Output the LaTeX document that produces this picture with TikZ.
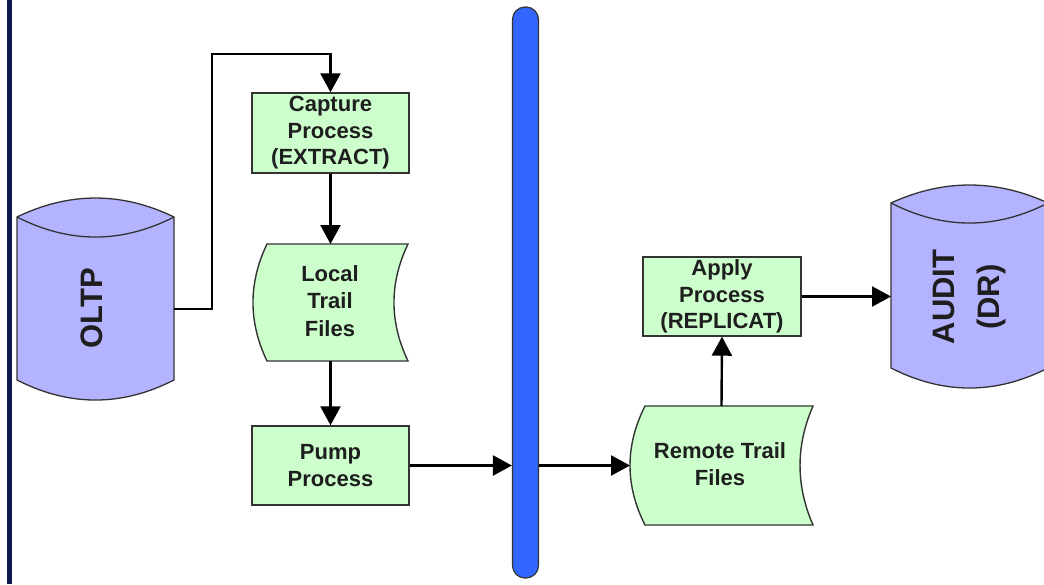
\documentclass[tikz,border=0pt]{standalone}
\usepackage{fontspec}
\setmainfont{Liberation Sans}
\usetikzlibrary{arrows.meta,calc}
\definecolor{mint}{HTML}{CCFFCC}
\definecolor{lilac}{HTML}{B3B3FF}
\definecolor{busblue}{HTML}{3366FF}
\definecolor{railnavy}{HTML}{0E1A4F}
\definecolor{edgegray}{HTML}{333333}
\definecolor{inkgray}{HTML}{1E1E1E}
\tikzset{
  procbox/.style={draw=edgegray, line width=1.4pt, fill=mint, minimum width=157pt,
    minimum height=80pt, inner sep=0pt, align=center, text=inkgray,
    font=\fontsize{22}{26.5}\selectfont\bfseries},
  ghost/.style={inner sep=0pt, outer sep=0pt, draw=none},
  shapeline/.style={draw=edgegray, line width=1.4pt},
  dbline/.style={draw=edgegray, line width=1.3pt},
  lbl/.style={inner sep=0pt, align=center, text=inkgray,
    font=\fontsize{22}{27.5}\selectfont\bfseries},
  dblbl/.style={inner sep=0pt, align=center, text=inkgray, rotate=90,
    font=\fontsize{31}{45}\selectfont\bfseries},
  flow/.style={draw=black, line width=2.4pt,
    -{Triangle[length=19pt,width=20pt]}}
}
\begin{document}
\begin{tikzpicture}[x=1pt,y=-1pt]
\useasboundingbox (0,0) rectangle (1044,584);
\clip (0,0) rectangle (1044,584);
\fill[white] (0,0) rectangle (1044,584);

% dark rail along the left edge
\fill[railnavy] (7,0) rectangle (12,584);

% ---- database cylinders (body areas as anchor nodes) ----
\node[ghost, minimum width=157pt, minimum height=163pt] (oltp) at (95.5,298.5) {};
\node[ghost, minimum width=157pt, minimum height=165pt] (audit) at (969.5,285.5) {};

% OLTP: body with domed top and bottom, then the near rim of the lid
\filldraw[fill=lilac, dbline] (17,217)
   .. controls (69.3,191.7) and (121.7,191.7) .. (174,217)
   -- (174,380)
   .. controls (121.7,406.7) and (69.3,406.7) .. (17,380)
   -- cycle;
\draw[dbline] (17,217) .. controls (69.3,243.7) and (121.7,243.7) .. (174,217);

% AUDIT: same construction, running past the right edge
\filldraw[fill=lilac, dbline] (891,203)
   .. controls (943.3,179) and (995.7,179) .. (1048,203)
   -- (1048,368)
   .. controls (995.7,394.7) and (943.3,394.7) .. (891,368)
   -- cycle;
\draw[dbline] (891,203) .. controls (943.3,229.7) and (995.7,229.7) .. (1048,203);

\node[dblbl] (oltptext) at (92,308) {OLTP};
\node[dblbl] (audittext) at (970,297) {AUDIT\\(DR)};

% ---- process boxes ----
\node[procbox] (capture) at (330.5,133) {Capture\\Process\\(EXTRACT)};
\node[procbox, minimum height=79pt] (pump) at (330.5,465.5) {Pump\\Process};
\node[procbox, minimum width=158pt, minimum height=79pt] (apply) at (722,296.5) {Apply\\Process\\(REPLICAT)};

% ---- trail file shapes ----
\node[ghost, minimum width=155pt, minimum height=117pt] (local) at (330.5,302.5) {};
\draw[shapeline, fill=mint] ($(local.north west)+(14,0)$) -- (local.north east)
   .. controls ($(local.north east)+(-18.7,39)$) and ($(local.south east)+(-18.7,-39)$) .. (local.south east)
   -- ($(local.south west)+(14,0)$)
   .. controls ($(local.south west)+(-4.7,-39)$) and ($(local.north west)+(-4.7,39)$) .. cycle;
\node[lbl] (localtext) at (330,301) {Local\\Trail\\Files};

\node[ghost, minimum width=183pt, minimum height=119pt] (remote) at (721.5,465.5) {};
\draw[shapeline, fill=mint] ($(remote.north west)+(15,0)$) -- (remote.north east)
   .. controls ($(remote.north east)+(-17.3,39.7)$) and ($(remote.south east)+(-17.3,-39.7)$) .. (remote.south east)
   -- ($(remote.south west)+(15,0)$)
   .. controls ($(remote.south west)+(-5,-39.7)$) and ($(remote.north west)+(-5,39.7)$) .. cycle;
\node[lbl] (remotetext) at (720,464) {Remote Trail\\Files};

% ---- network bus ----
\node[draw=edgegray, line width=1.2pt, fill=busblue, rounded corners=12.5pt,
      minimum width=26pt, minimum height=571pt, inner sep=0pt] (bus) at (525.5,292.5) {};

% ---- connectors ----
\coordinate (oltpout) at (174,309);
\coordinate (overbend) at (212,54);
\draw[flow] (oltpout) -| (overbend) -| (capture.north);
\draw[flow] (capture.south) -- (local.north);
\draw[flow] (local.south) -- (pump.north);
\draw[flow] (pump.east) -- (pump.east -| bus.west);
\draw[flow] (bus.east |- remote.west) -- (remote.west);
\draw[flow] (remote.north) -- (apply.south);
\draw[flow] (apply.east) -- (apply.east -| audit.west);
\end{tikzpicture}
\end{document}
